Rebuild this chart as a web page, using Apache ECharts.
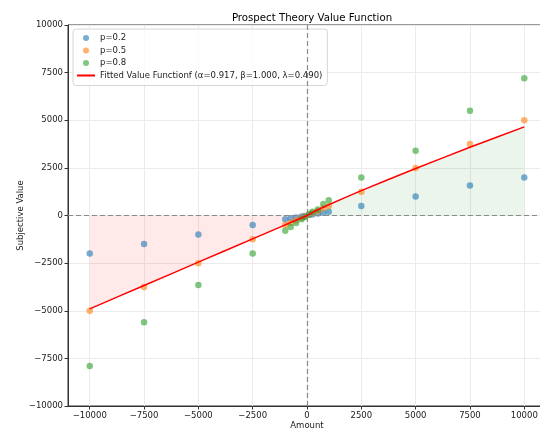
<!DOCTYPE html>
<html>
<head>
<meta charset="utf-8">
<script src="https://cdn.jsdelivr.net/npm/echarts@6/dist/echarts.min.js"></script>
<style>
  html, body { margin: 0; padding: 0; background: #fff; }
  #chart { width: 540px; height: 430px; }
</style>
</head>
<body>
<div id="chart"></div>
<script>
// amounts offered (x) and the subjective values read per probability
const amounts = [-10000, -7500, -5000, -2500, -1000, -750, -500, -250, -100, 100, 250, 500, 750, 1000, 2500, 5000, 7500, 10000];
const valuesP02 = [-2000, -1500, -1000, -500, -200, -150, -100, -50, -20, 20, 50, 100, 150, 200, 500, 1000, 1580, 2000];
const valuesP05 = [-5000, -3750, -2500, -1250, -500, -375, -250, -125, -50, 50, 125, 250, 375, 500, 1250, 2500, 3750, 5000];
const valuesP08 = [-7900, -5600, -3650, -2000, -800, -600, -400, -200, -80, 80, 200, 320, 600, 800, 2000, 3400, 5500, 7200];

// fitted curve
const fitX = [-10000, -7500, -5000, -2500, -1000, 0, 250, 500, 1000, 2500, 5000, 7500, 10000];
const fitY = [-4900, -3675, -2450, -1225, -490, 0, 160, 300, 565, 1305, 2465, 3580, 4650];

const xTicks = [-10000, -7500, -5000, -2500, 0, 2500, 5000, 7500, 10000];
const seriesNames = ['p=0.2', 'p=0.5', 'p=0.8'];
const fitName = 'Fitted Value Functionf (\u03b1=0.917, \u03b2=1.000, \u03bb=0.490)';

const zip = (xs, ys) => xs.map((x, i) => [x, ys[i]]);
const fitPts = zip(fitX, fitY);
const lossPts = fitPts.filter(p => p[0] <= 0);
const gainPts = fitPts.filter(p => p[0] >= 0);
const minus = v => String(v).replace('-', '\u2212');

const font = 'DejaVu Sans';
const fs = 8.5;
const scatter = (name, ys, color) => ({
  name: name,
  type: 'scatter',
  data: zip(amounts, ys),
  symbolSize: 6.5,
  itemStyle: { color: color, opacity: 0.6 },
  z: 4
});

const option = {
  animation: false,
  textStyle: { fontFamily: font },
  title: {
    text: 'Prospect Theory Value Function',
    left: 307,
    top: 8,
    textAlign: 'center',
    textStyle: { fontFamily: font, fontSize: 10.2, fontWeight: 'normal', color: '#000' }
  },
  legend: {
    orient: 'vertical',
    left: 73,
    top: 29,
    data: [...seriesNames, { name: fitName, itemStyle: { opacity: 0 } }],
    itemWidth: 18,
    itemHeight: 6,
    itemGap: 2.5,
    padding: [4, 5, 5, 3],
    backgroundColor: 'rgba(255,255,255,0.8)',
    borderColor: '#d6d6d6',
    borderWidth: 1,
    borderRadius: 3,
    textStyle: { fontFamily: font, fontSize: fs, color: '#222', lineHeight: 10 }
  },
  grid: {
    left: 68, right: -6, top: 25, bottom: 24,
    outerBoundsMode: 'none',
    containLabel: false,
    show: true, borderColor: '#333', borderWidth: 1, backgroundColor: 'transparent'
  },
  xAxis: {
    type: 'value',
    min: -11000,
    max: 11000,
    name: 'Amount',
    nameLocation: 'middle',
    nameMoveOverlap: false,
    nameGap: 15,
    nameTextStyle: { fontFamily: font, fontSize: fs, color: '#222' },
    axisLine: { show: true, onZero: false, lineStyle: { color: '#333' } },
    axisTick: { show: true, length: 3.5, customValues: xTicks, lineStyle: { color: '#333' } },
    axisLabel: { customValues: xTicks, margin: 5, fontSize: fs, color: '#222', fontFamily: font, formatter: minus },
    splitLine: { show: true, lineStyle: { color: '#ebebeb', width: 1 } }
  },
  yAxis: {
    type: 'value',
    min: -10000,
    max: 10000,
    interval: 2500,
    name: 'Subjective Value',
    nameLocation: 'middle',
    nameMoveOverlap: false,
    nameGap: 43,
    nameTextStyle: { fontFamily: font, fontSize: fs, color: '#222' },
    axisLine: { show: true, onZero: false, lineStyle: { color: '#333' } },
    axisTick: { show: true, length: 3.5, lineStyle: { color: '#333' } },
    axisLabel: { margin: 5, fontSize: fs, color: '#222', fontFamily: font, formatter: minus },
    splitLine: { show: true, lineStyle: { color: '#ebebeb', width: 1 } }
  },
  series: [
    {
      name: 'lossFill',
      type: 'line',
      data: lossPts,
      symbol: 'none',
      lineStyle: { width: 0 },
      areaStyle: { color: 'rgba(255,0,0,0.12)', origin: 0 },
      silent: true,
      z: 1
    },
    {
      name: 'gainFill',
      type: 'line',
      data: gainPts,
      symbol: 'none',
      lineStyle: { width: 0 },
      areaStyle: { color: 'rgba(0,128,0,0.11)', origin: 0 },
      silent: true,
      z: 1,
      markLine: {
        silent: true,
        symbol: 'none',
        label: { show: false },
        lineStyle: { color: '#8a8a8a', type: [5, 3], width: 1.2 },
        data: [{ xAxis: 0 }, { yAxis: 0 }]
      }
    },
    scatter(seriesNames[0], valuesP02, '#1f77b4'),
    scatter(seriesNames[1], valuesP05, '#ff7f0e'),
    scatter(seriesNames[2], valuesP08, '#2ca02c'),
    {
      name: fitName,
      type: 'line',
      data: fitPts,
      symbol: 'none',
      smooth: 0.2,
      lineStyle: { color: '#ff0000', width: 1.5 },
      itemStyle: { color: '#ff0000' },
      z: 5
    }
  ]
};

const chart = echarts.init(document.getElementById('chart'));
chart.setOption(option);
</script>
</body>
</html>
